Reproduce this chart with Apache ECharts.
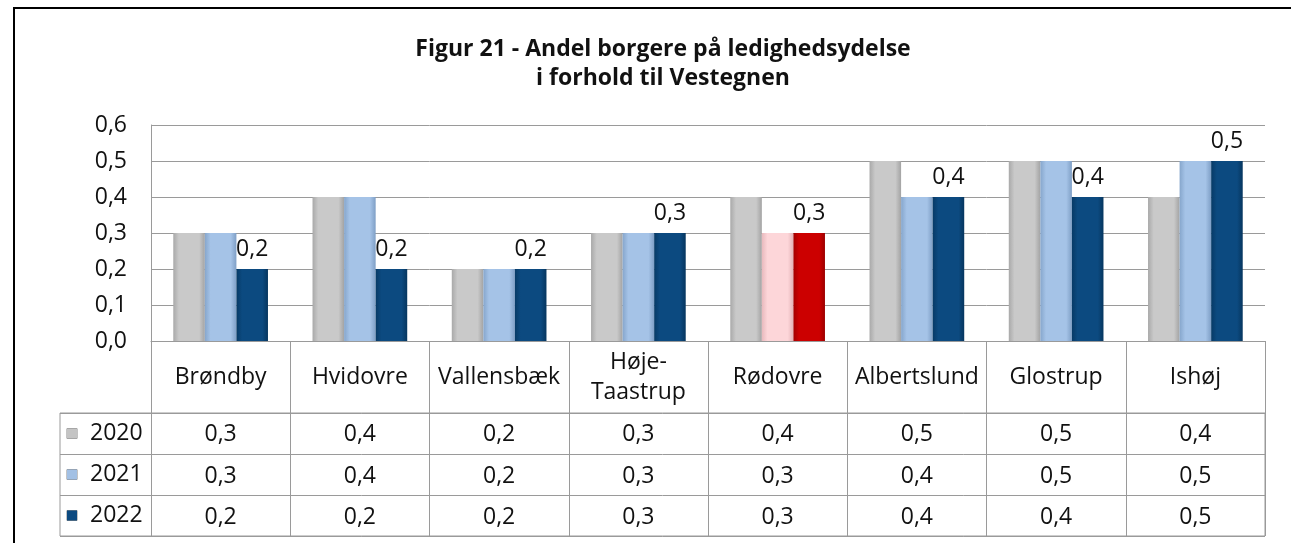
<!DOCTYPE html>
<html>
<head>
<meta charset="utf-8">
<script src="https://cdn.jsdelivr.net/npm/echarts@6/dist/echarts.min.js"></script>
<style>
html,body{margin:0;padding:0;background:#fff;}
#c{width:1291px;height:543px;}
</style>
</head>
<body>
<div id="c"></div>
<script>
var titleLines = ['Figur 21 - Andel borgere på ledighedsydelse', 'i forhold til Vestegnen'];
var categories = ['Brøndby', 'Hvidovre', 'Vallensbæk', 'Høje-Taastrup', 'Rødovre', 'Albertslund', 'Glostrup', 'Ishøj'];
var years = ['2020', '2021', '2022'];
var v2020 = [0.3, 0.4, 0.2, 0.3, 0.4, 0.5, 0.5, 0.4];
var v2021 = [0.3, 0.4, 0.2, 0.3, 0.3, 0.4, 0.5, 0.5];
var v2022 = [0.2, 0.2, 0.2, 0.3, 0.3, 0.4, 0.4, 0.5];
var highlightCategory = 'Rødovre';
var yTicks = [0, 0.1, 0.2, 0.3, 0.4, 0.5, 0.6];

var FONT = 'Open Sans';
var FS = 23;
var TXT = '#111';
var LINE = '#9a9a9a';

function fmt(v) { return v.toFixed(1).replace('.', ','); }
function grad(edgeL, mid, edgeR) {
  return {type:'linear', x:0, y:0, x2:1, y2:0, colorStops:[
    {offset:0, color:edgeL}, {offset:0.18, color:mid}, {offset:0.82, color:mid}, {offset:1, color:edgeR}]};
}
var colGray = grad('#a9a9a9', '#c9c9c9', '#a3a3a3');
var colLight = grad('#86a6cc', '#a5c3e7', '#7f9fc6');
var colDark = grad('#073a66', '#0c4a80', '#06365f');
var colPink = grad('#e8b9bd', '#fdd6d9', '#e3b3b7');
var colRed = grad('#a30000', '#cc0000', '#9c0000');
var iconColors = ['#c4c4c4', '#a2c0e4', '#0c4a80'];
var valueRows = [v2020, v2021, v2022];

function mkData(arr, base, hi) {
  return arr.map(function (v, i) {
    return {value: v, itemStyle: {color: categories[i] === highlightCategory ? hi : base}};
  });
}

var chart = echarts.init(document.getElementById('c'));
var rowMargins = [93, 135, 176];
var xAxes = [{
  type: 'category', data: categories, gridIndex: 0, position: 'bottom',
  axisLine: {show: true, lineStyle: {color: LINE, width: 1}},
  axisTick: {show: true, interval: 0, length: 195, lineStyle: {color: LINE, width: 1}},
  axisLabel: {interval: 0, margin: 36, verticalAlign: 'middle', fontFamily: FONT, fontSize: FS, color: TXT,
    lineHeight: 30, formatter: function (v) { return v.replace('-', '-\n'); }}
}];
valueRows.forEach(function (row, r) {
  xAxes.push({
    type: 'category', data: categories, gridIndex: 0, position: 'bottom',
    axisLine: {show: false}, axisTick: {show: false},
    axisLabel: {interval: 0, margin: rowMargins[r], verticalAlign: 'middle', fontFamily: FONT, fontSize: FS, color: TXT,
      formatter: function (v, i) { return fmt(row[i]); }}
  });
});
xAxes.push({type: 'value', gridIndex: 1, show: false, min: 0, max: 1});

var richIcons = {t: {fontFamily: FONT, fontSize: FS, color: TXT, padding: [0, 0, 0, 13]}};
iconColors.forEach(function (c, i) {
  richIcons['i' + i] = {width: 10, height: 10, backgroundColor: c, borderColor: '#888', borderWidth: 0.5};
});

var option = {
  animation: false,
  backgroundColor: '#fff',
  title: {
    text: titleLines.join('\n'), left: 658, top: 30, textAlign: 'center',
    textStyle: {fontFamily: FONT, fontWeight: 'bold', fontSize: 23, color: TXT, lineHeight: 29}
  },
  graphic: [{
    type: 'rect', silent: true, z: 100,
    shape: {x: 14, y: 8, width: 1400, height: 700},
    style: {fill: 'none', stroke: '#000', lineWidth: 2}
  }],
  grid: [
    {left: 151, right: 26, top: 125, bottom: 202, containLabel: false},
    {left: 60, right: 26, top: 413, bottom: 7, show: true, borderColor: LINE, borderWidth: 1, backgroundColor: 'transparent'}
  ],
  xAxis: xAxes,
  yAxis: [{
    type: 'value', gridIndex: 0, min: 0, max: 0.6, interval: 0.1,
    axisLine: {show: true, lineStyle: {color: LINE}},
    axisTick: {show: false},
    splitLine: {show: true, lineStyle: {color: LINE, width: 1}},
    axisLabel: {margin: 24, fontFamily: FONT, fontSize: FS, color: TXT,
      formatter: function (v) { return fmt(v); }}
  }, {
    type: 'category', gridIndex: 1, data: years, inverse: true,
    axisLine: {show: false}, axisTick: {show: false},
    splitLine: {show: true, lineStyle: {color: LINE, width: 1}},
    axisLabel: {inside: true, margin: 7, align: 'left', verticalAlign: 'middle',
      formatter: function (v, i) { return '{i' + i + '|}{t|' + v + '}'; }, rich: richIcons}
  }],
  series: [
    {name: years[0], type: 'bar', xAxisIndex: 0, yAxisIndex: 0, barGap: '0%', barCategoryGap: '32%',
      data: mkData(v2020, colGray, colGray)},
    {name: years[1], type: 'bar', xAxisIndex: 0, yAxisIndex: 0, barGap: '0%', barCategoryGap: '32%',
      data: mkData(v2021, colLight, colPink)},
    {name: years[2], type: 'bar', xAxisIndex: 0, yAxisIndex: 0, barGap: '0%', barCategoryGap: '32%',
      data: mkData(v2022, colDark, colRed),
      label: {show: true, position: 'top', distance: 8, fontFamily: FONT, fontSize: FS, color: TXT,
        formatter: function (p) { return fmt(p.value); }}}
  ]
};
chart.setOption(option);
</script>
</body>
</html>
